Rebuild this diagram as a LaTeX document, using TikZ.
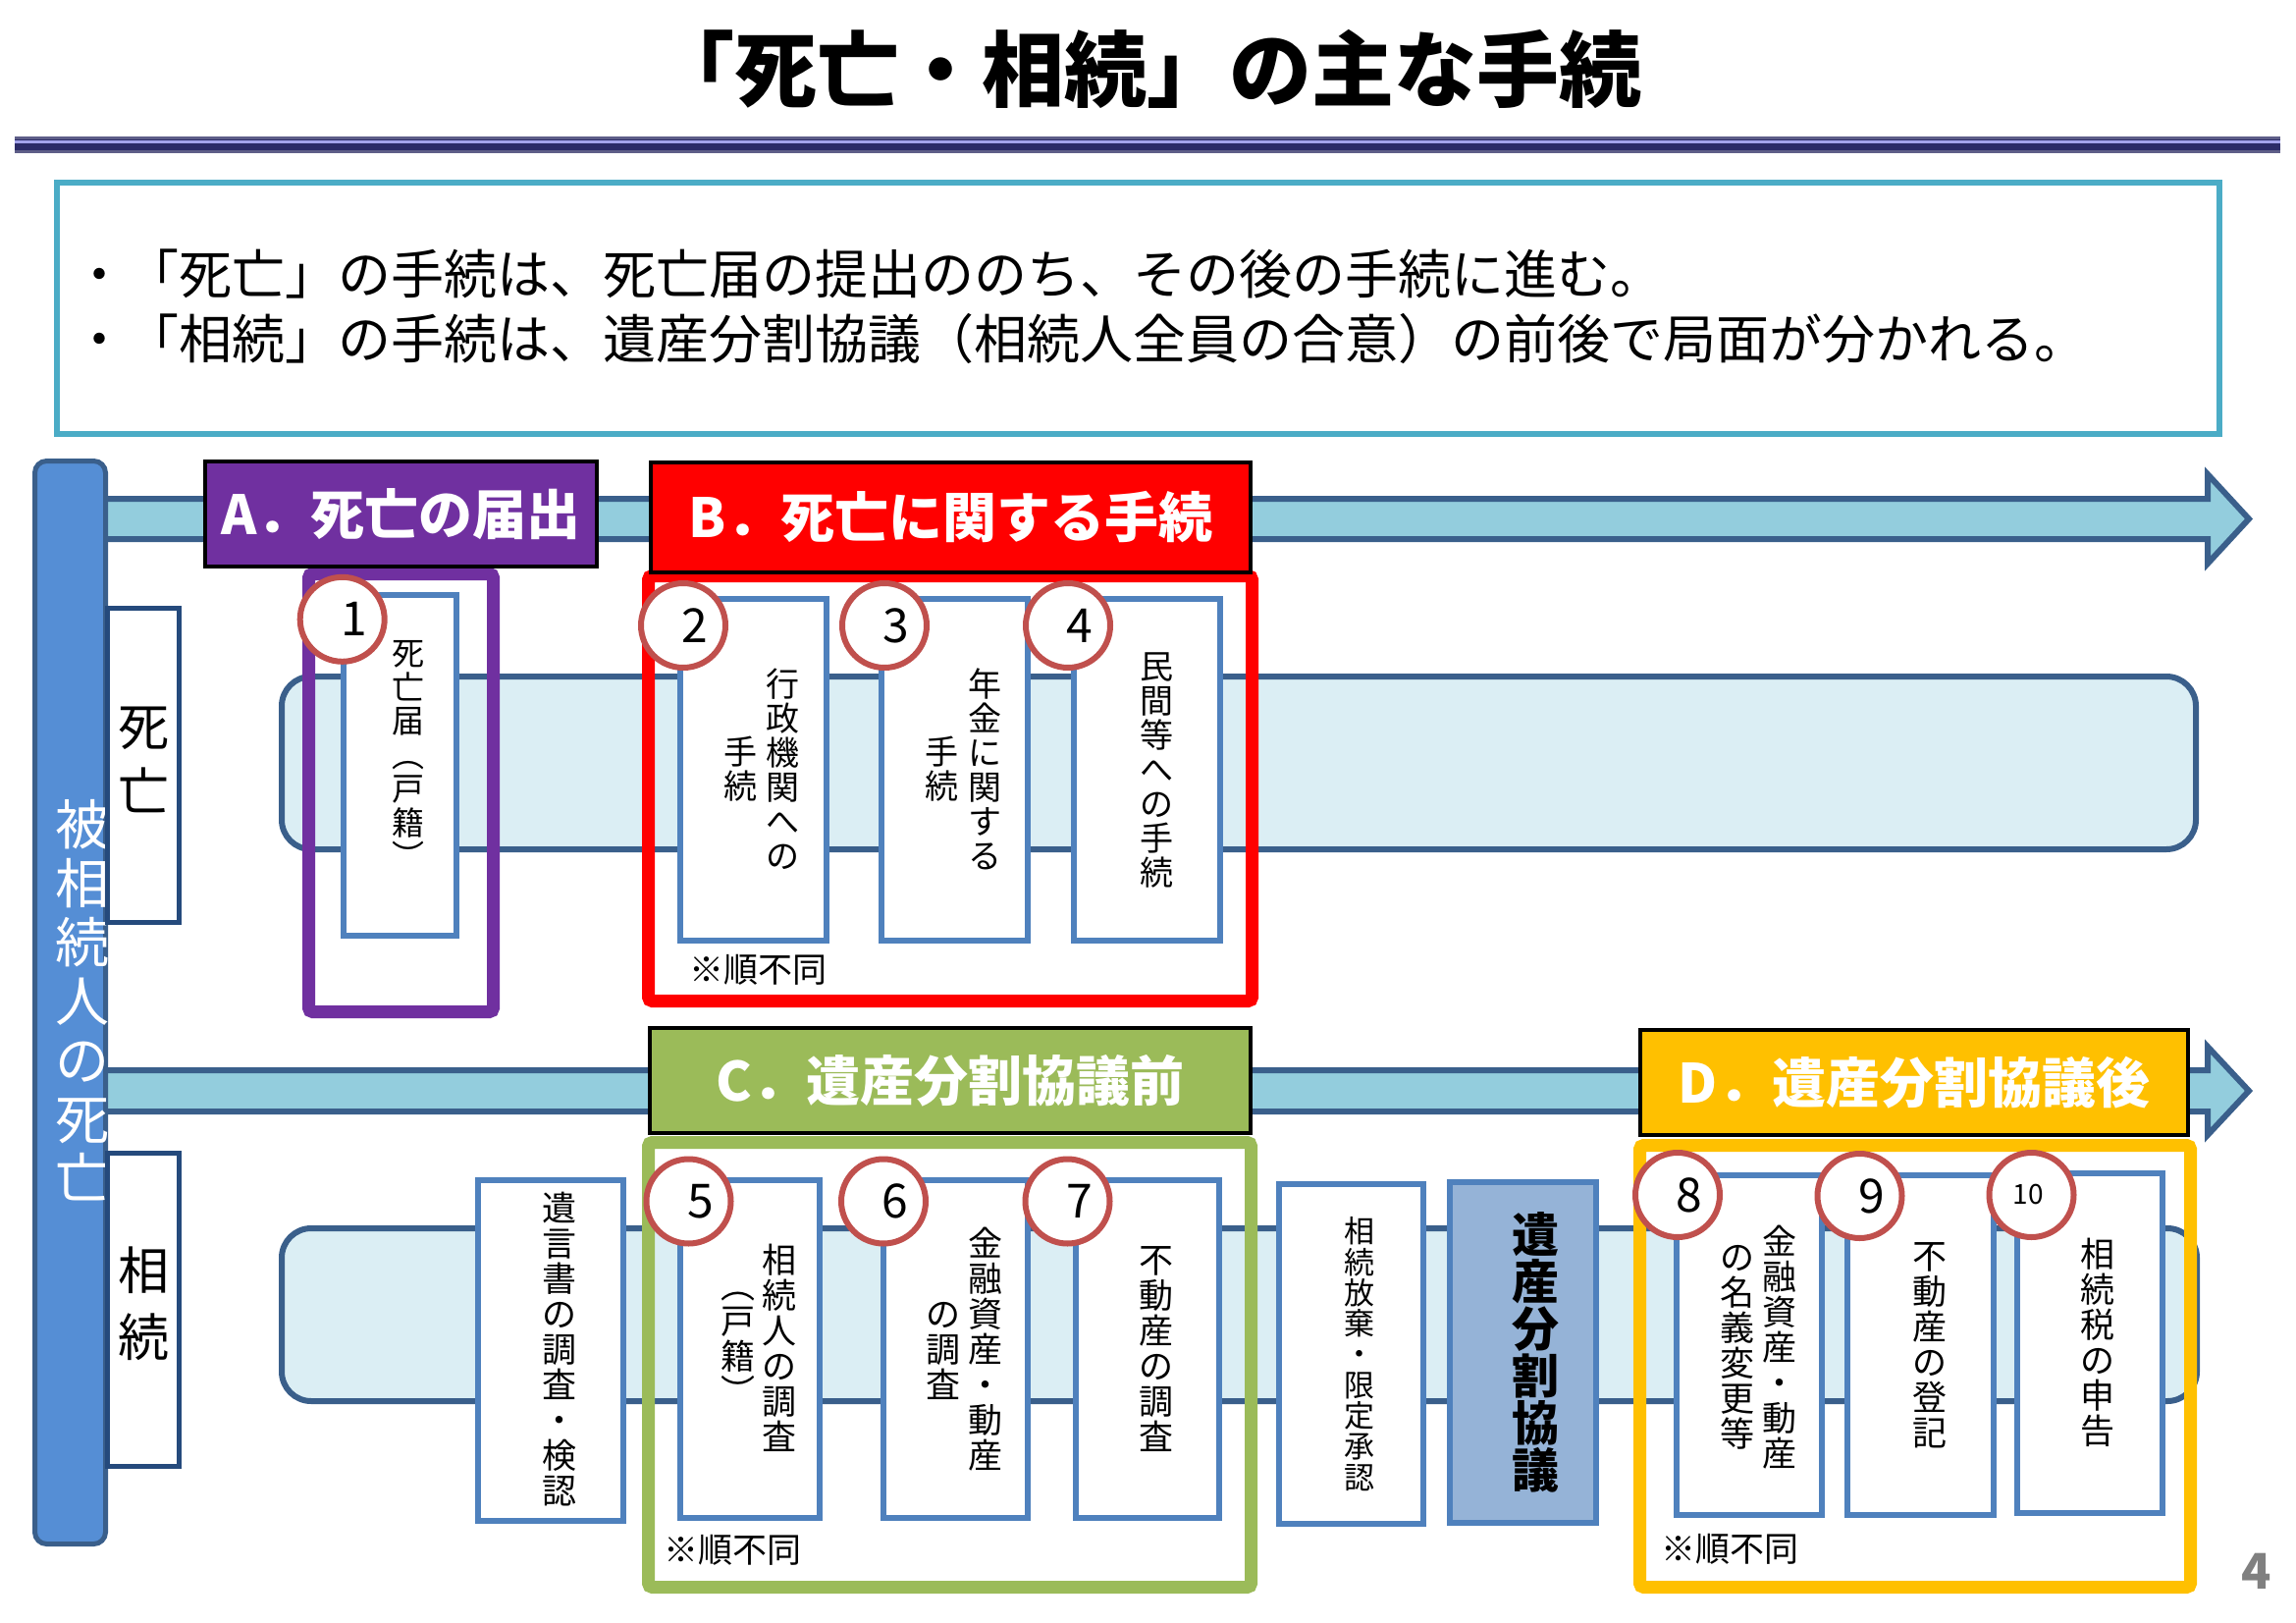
\documentclass[tikz,border=0pt]{standalone}
\usepackage{fontspec}
\setmainfont{Noto Sans CJK JP}
\usetikzlibrary{calc}
\definecolor{purp}{HTML}{7030A0}
\definecolor{redh}{HTML}{FF0000}
\definecolor{grnh}{HTML}{9BBB59}
\definecolor{orgh}{HTML}{FFC000}
\definecolor{itemb}{HTML}{4F81BD}
\definecolor{circb}{HTML}{C0504D}
\definecolor{bandb}{HTML}{3A5F8B}
\definecolor{lblb}{HTML}{254A7C}
\definecolor{arrf}{HTML}{93CDDD}
\definecolor{bandf}{HTML}{DBEEF4}
\definecolor{barf}{HTML}{558ED5}
\definecolor{kyof}{HTML}{95B3D7}
\definecolor{cyanb}{HTML}{4BACC6}
\definecolor{tbdark}{HTML}{2B2B68}
\definecolor{tbedge}{HTML}{5E5E88}
\definecolor{tblight}{HTML}{A3A3EC}
\definecolor{pgray}{HTML}{808080}
% style, name, x1, y1, x2, y2, line width in px, text
\newcommand\rbox[8]{\node[#1, inner sep=0pt, outer sep=0pt,
  minimum width={(#5-#3-#7)*0.5pt}, minimum height={(#6-#4-#7)*0.5pt}]
  (#2) at ({(#3+#5)/2},{(#4+#6)/2}) {#8};}
\tikzset{
  itembox/.style={draw=itemb, fill=white, line width=3pt},
  frame/.style={line width=6.5pt, rounded corners=2pt},
  hdr/.style={draw=black, line width=2pt, text=white, font=\fontsize{27.5}{30}\selectfont\bfseries},
  band/.style={draw=bandb, fill=bandf, line width=3pt, rounded corners=15pt},
  lbl/.style={draw=lblb, fill=white, line width=2.5pt},
  arr/.style={draw=bandb, fill=arrf, line width=3pt, line join=miter},
  num/.style={circle, draw=circb, fill=white, line width=3pt, minimum size=43pt, inner sep=0pt},
  digit/.style={font=\fontsize{24}{24}\selectfont, inner sep=0pt},
  vt/.style={align=center, inner sep=0pt, font=\fontsize{17}{17.5}\selectfont},
  vtl/.style={align=center, inner sep=0pt, font=\fontsize{17.5}{18}\selectfont},
  note/.style={anchor=west, inner sep=0pt, font=\fontsize{17.5}{17.5}\selectfont},
}
\begin{document}
\begin{tikzpicture}[x=0.5pt, y=-0.5pt]
\useasboundingbox (0,0) rectangle (2339,1653);
% title
\node[inner sep=0pt, font=\fontsize{42}{42}\selectfont\bfseries] (title) at (1168,70) {「死亡・相続」の主な手続};
\fill[tbedge] (15,139) rectangle (2323,156);
\fill[tbdark] (15,142) rectangle (2323,153);
\fill[tblight] (15,143) rectangle (2323,146.5);
% bullet box
\draw[cyanb, line width=3pt] (58,186) rectangle (2261,442);
\node[anchor=west, align=left, inner sep=0pt, font=\fontsize{27}{33}\selectfont] (bul) at (74,312)
  {・「死亡」の手続は、死亡届の提出ののち、その後の手続に進む。\\・「相続」の手続は、遺産分割協議（相続人全員の合意）の前後で局面が分かれる。};
% arrows
\draw[arr] (100,508) -- (2249,508) -- (2249,483) -- (2291,528.5) -- (2249,574) -- (2249,549) -- (100,549) -- cycle;
\draw[arr] (100,1090) -- (2249,1090) -- (2249,1066) -- (2291,1111) -- (2249,1156) -- (2249,1132) -- (100,1132) -- cycle;
% bands
\rbox{band}{bandD}{284}{686}{2240}{868}{6}{}
\rbox{band}{bandS}{284}{1248}{2241}{1430}{6}{}
% left bar
\rbox{draw=bandb, fill=barf, line width=2.5pt, rounded corners=6pt}{bar}{33}{467}{110}{1575}{5}{}
\node[align=center, inner sep=0pt, text=white, font=\fontsize{27.5}{30}\selectfont] (bartext) at (84,1019) {被\\相\\続\\人\\の\\死\\亡};
\rbox{lbl}{lblD}{107}{617}{185}{942}{5}{}
\rbox{lbl}{lblS}{107}{1172}{185}{1496}{5}{}
\node[align=center, inner sep=0pt, font=\fontsize{26}{33}\selectfont] (lblDt) at (146,774) {死\\亡};
\node[align=center, inner sep=0pt, font=\fontsize{26}{34}\selectfont] (lblSt) at (146,1328) {相\\続};
% frames
\rbox{frame, draw=purp}{fA}{308}{578}{509}{1037}{13}{}
\rbox{frame, draw=redh}{fB}{654}{580}{1282}{1026}{13}{}
\rbox{frame, draw=grnh}{fC}{654}{1157}{1281}{1623}{13}{}
\rbox{frame, draw=orgh}{fD}{1664}{1160}{2238}{1623}{13}{}
% headers
\rbox{hdr, fill=purp}{hA}{207}{468}{610}{579}{4}{A．死亡の届出}
\rbox{hdr, fill=redh}{hB}{661}{469}{1276}{585}{4}{B．死亡に関する手続}
\rbox{hdr, fill=grnh}{hC}{660}{1045}{1276}{1156}{4}{C．遺産分割協議前}
\rbox{hdr, fill=orgh}{hD}{1669}{1047}{2231}{1158}{4}{D．遺産分割協議後}
% item boxes
\rbox{itembox}{b1}{347}{603}{468}{956}{6}{}
\rbox{itembox}{b2}{690}{607}{845}{961}{6}{}
\rbox{itembox}{b3}{895}{607}{1050}{961}{6}{}
\rbox{itembox}{b4}{1091}{607}{1246}{961}{6}{}
\rbox{itembox}{bW}{484}{1199}{638}{1552}{6}{}
\rbox{itembox}{b5}{690}{1199}{838}{1549}{6}{}
\rbox{itembox}{b6}{897}{1199}{1050}{1549}{6}{}
\rbox{itembox}{b7}{1093}{1199}{1245}{1549}{6}{}
\rbox{itembox}{bR}{1300}{1203}{1453}{1555}{6}{}
\rbox{itembox, fill=kyof}{bK}{1474}{1201}{1629}{1554}{6}{}
\rbox{itembox}{b8}{1705}{1194}{1859}{1546}{6}{}
\rbox{itembox}{b9}{1879}{1194}{2034}{1546}{6}{}
\rbox{itembox}{b10}{2052}{1192}{2206}{1544}{6}{}
% item texts
\node[vt, font=\fontsize{16.5}{17.25}\selectfont] (t1) at (416,768.5) {死\\亡\\届\\︵\\戸\\籍\\︶};
\node[vt] (t2a) at (797.5,783) {行\\政\\機\\関\\へ\\の};
\node[vt] (t2b) at (754,783) {手\\続};
\node[vt] (t3a) at (1003,783) {年\\金\\に\\関\\す\\る};
\node[vt] (t3b) at (959,783) {手\\続};
\node[vt] (t4) at (1178,784.5) {民\\間\\等\\へ\\の\\手\\続};
\node[vtl] (tW) at (570,1374.5) {遺\\言\\書\\の\\調\\査\\・\\検\\認};
\node[vtl] (t5a) at (794,1373) {相\\続\\人\\の\\調\\査};
\node[vtl] (t5b) at (752,1373) {︵\\戸\\籍\\︶};
\node[vtl] (t6a) at (1003.5,1374) {金\\融\\資\\産\\・\\動\\産};
\node[vtl] (t6b) at (961,1376) {の\\調\\査};
\node[vtl] (t7) at (1177.5,1374) {不\\動\\産\\の\\調\\査};
\node[vt, font=\fontsize{15.5}{15.65}\selectfont] (tR) at (1385,1379) {相\\続\\放\\棄\\・\\限\\定\\承\\認};
\node[vt, font=\fontsize{24}{24}\selectfont\bfseries] (tK) at (1564,1377) {遺\\産\\分\\割\\協\\議};
\node[vtl] (t8a) at (1813,1372) {金\\融\\資\\産\\・\\動\\産};
\node[vtl] (t8b) at (1770,1372) {の\\名\\義\\変\\更\\等};
\node[vtl] (t9) at (1966,1370.5) {不\\動\\産\\の\\登\\記};
\node[vtl] (t10) at (2137,1367) {相\\続\\税\\の\\申\\告};
% number circles
\node[num] (c1) at (348.7,630.8) {};
\node[num] (c2) at (696,637) {};
\node[num] (c3) at (901,637) {};
\node[num] (c4) at (1088,637) {};
\node[num] (c5) at (701.5,1223.5) {};
\node[num] (c6) at (900,1223.5) {};
\node[num] (c7) at (1087.5,1223.5) {};
\node[num] (c8) at (1709,1217) {};
\node[num] (c9) at (1894.5,1218) {};
\node[num] (c10) at (2069.5,1217) {};
\node[digit] (n1) at ($(c1)+(12,0)$) {1};
\node[digit] (n2) at ($(c2)+(12,0)$) {2};
\node[digit] (n3) at ($(c3)+(12,0)$) {3};
\node[digit] (n4) at ($(c4)+(12,0)$) {4};
\node[digit] (n5) at ($(c5)+(12,0)$) {5};
\node[digit] (n6) at ($(c6)+(12,0)$) {6};
\node[digit] (n7) at ($(c7)+(12,0)$) {7};
\node[digit] (n8) at ($(c8)+(12,0)$) {8};
\node[digit] (n9) at ($(c9)+(12,0)$) {9};
\node[digit, font=\fontsize{14}{14}\selectfont] (n10) at ($(c10)+(-3,0)$) {10};
% notes
\node[note] (noteB) at (702,988) {※順不同};
\node[note] (noteC) at (676,1579) {※順不同};
\node[note] (noteD) at (1692,1578) {※順不同};
% page number
\node[inner sep=0pt, text=pgray, font=\fontsize{25}{25}\selectfont\bfseries] (page) at (2299,1600) {4};
\end{tikzpicture}
\end{document}
